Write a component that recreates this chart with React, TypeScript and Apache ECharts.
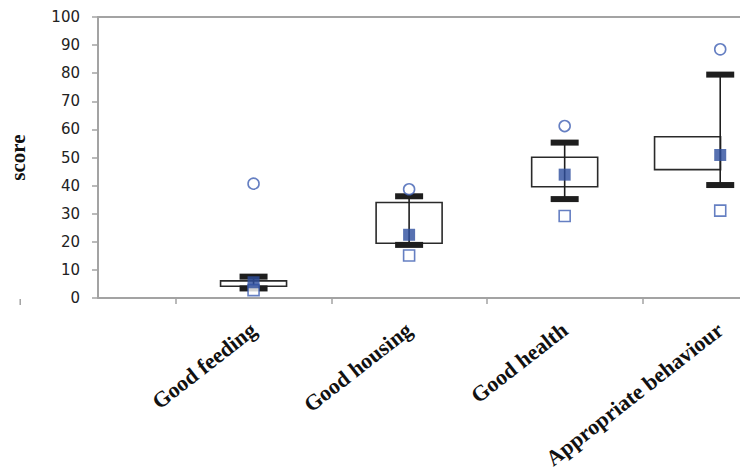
import React, { useEffect, useRef } from "react";
import * as echarts from "echarts";

const categories = ["Good feeding", "Good housing", "Good health", "Appropriate behaviour"];
const catX = [1, 2, 3, 4];
const boxX = [1, 2, 3, 3.79];
const maxVals = [40.7, 38.7, 61.2, 88.5];
const minVals = [2.8, 15.1, 29.2, 31.1];
const meanVals = [5.6, 22.5, 43.9, 50.9];
const q1Vals = [4.2, 19.5, 39.6, 45.7];
const q3Vals = [6.1, 34.0, 50.1, 57.4];
const lowVals = [3.4, 18.9, 35.2, 40.2];
const highVals = [7.6, 36.2, 55.3, 79.5];
const yTicks = [0, 10, 20, 30, 40, 50, 60, 70, 80, 90, 100];

const BOX_W = 66;
const CAP_W = 28;
const CAP_H = 6;
const AXIS_COLOR = "#a3a3a3";
const BLUE = "#3f5fb3";
const DARK_BLUE = "#2d4d9e";

export default function App() {
  const ref = useRef<HTMLDivElement>(null);
  useEffect(() => {
    if (!ref.current) return;
    const chart = echarts.init(ref.current, null, { renderer: "svg" });
    const boxData = categories.map((_, i) => [boxX[i], q1Vals[i], q3Vals[i]]);
    const errData = categories.map((_, i) => [catX[i], lowVals[i], highVals[i]]);
    chart.setOption({
      animation: false,
      backgroundColor: "#ffffff",
      grid: { left: 98, top: 17, bottom: 177, right: -58, containLabel: false, outerBoundsMode: "none" },
      xAxis: [
        {
          type: "value",
          min: 0,
          max: 4.5,
          position: "bottom",
          splitLine: { show: false },
          axisLine: { show: true, onZero: false, lineStyle: { color: AXIS_COLOR, width: 2 } },
          axisTick: { show: true, length: 6, customValues: [0.5, 1.5, 2.5, 3.5, 4.5], lineStyle: { color: AXIS_COLOR, width: 1.5 } },
          axisLabel: {
            show: true,
            customValues: catX,
            formatter: (v: number) => categories[Math.round(v) - 1] ?? "",
            rotate: 38,
            margin: 29,
            fontFamily: "Liberation Serif",
            fontWeight: "bold",
            fontSize: 22,
            color: "#111",
          },
        },
        {
          type: "value",
          min: 0,
          max: 4.5,
          position: "top",
          splitLine: { show: false },
          axisLine: { show: true, onZero: false, lineStyle: { color: AXIS_COLOR, width: 2 } },
          axisTick: { show: false },
          axisLabel: { show: false },
        },
      ],
      yAxis: {
        type: "value",
        min: 0,
        max: 100,
        interval: 10,
        name: "score",
        nameLocation: "middle",
        nameGap: 70,
        nameRotate: 90,
        nameTextStyle: { fontFamily: "Liberation Serif", fontWeight: "bold", fontSize: 21, color: "#111" },
        splitLine: { show: false },
        axisLine: { show: true, onZero: false, lineStyle: { color: AXIS_COLOR, width: 2 } },
        axisTick: { show: true, length: 6, lineStyle: { color: AXIS_COLOR, width: 1.5 } },
        axisLabel: {
          margin: 18,
          fontFamily: "DejaVu Sans",
          fontSize: 15,
          color: "#222",
          formatter: (v: number) => (yTicks.includes(v) ? String(v) : ""),
        },
      },
      series: [
        {
          type: "custom",
          name: "box",
          z: 1,
          encode: { x: 0, y: [1, 2] },
          data: boxData,
          renderItem: (params: any, api: any) => {
            const x = api.value(0);
            const top = api.coord([x, api.value(2)]);
            const bot = api.coord([x, api.value(1)]);
            return {
              type: "rect",
              shape: { x: top[0] - BOX_W / 2, y: top[1], width: BOX_W, height: bot[1] - top[1] },
              style: { fill: "#ffffff", stroke: "#2a2a2a", lineWidth: 1.6 },
            };
          },
        },
        {
          type: "custom",
          name: "range",
          z: 2,
          encode: { x: 0, y: [1, 2] },
          data: errData,
          renderItem: (params: any, api: any) => {
            const x = api.value(0);
            const hi = api.coord([x, api.value(2)]);
            const lo = api.coord([x, api.value(1)]);
            return {
              type: "group",
              children: [
                { type: "line", shape: { x1: hi[0], y1: hi[1], x2: lo[0], y2: lo[1] }, style: { stroke: "#1e1e1e", lineWidth: 1.6 } },
                { type: "rect", shape: { x: hi[0] - CAP_W / 2, y: hi[1] - CAP_H / 2, width: CAP_W, height: CAP_H }, style: { fill: "#1e1e1e" } },
                { type: "rect", shape: { x: lo[0] - CAP_W / 2, y: lo[1] - CAP_H / 2, width: CAP_W, height: CAP_H }, style: { fill: "#1e1e1e" } },
              ],
            };
          },
        },
        {
          type: "scatter",
          name: "max",
          z: 3,
          symbol: "circle",
          symbolSize: 11,
          itemStyle: { color: "#ffffff", borderColor: BLUE, borderWidth: 1.6 },
          data: categories.map((_, i) => [catX[i], maxVals[i]]),
        },
        {
          type: "scatter",
          name: "min",
          z: 3,
          symbol: "rect",
          symbolSize: 11,
          itemStyle: { color: "#ffffff", borderColor: BLUE, borderWidth: 1.6 },
          data: categories.map((_, i) => [catX[i], minVals[i]]),
        },
        {
          type: "scatter",
          name: "mean",
          z: 4,
          symbol: "rect",
          symbolSize: 12,
          itemStyle: { color: DARK_BLUE },
          data: categories.map((_, i) => [catX[i], meanVals[i]]),
        },
      ],
    });
    const px = chart.convertToPixel({ xAxisIndex: 0 }, -0.5) as number;
    const py = chart.convertToPixel({ yAxisIndex: 0 }, 0) as number;
    chart.setOption({
      graphic: [
        { type: "line", shape: { x1: px, y1: py + 1, x2: px, y2: py + 7 }, style: { stroke: AXIS_COLOR, lineWidth: 1.5 } },
      ],
    });
    return () => chart.dispose();
  }, []);
  return (
    <div
      ref={ref}
      style={{ position: "absolute", left: 0, top: 0, width: 740, height: 475, background: "#fff" }}
    />
  );
}
